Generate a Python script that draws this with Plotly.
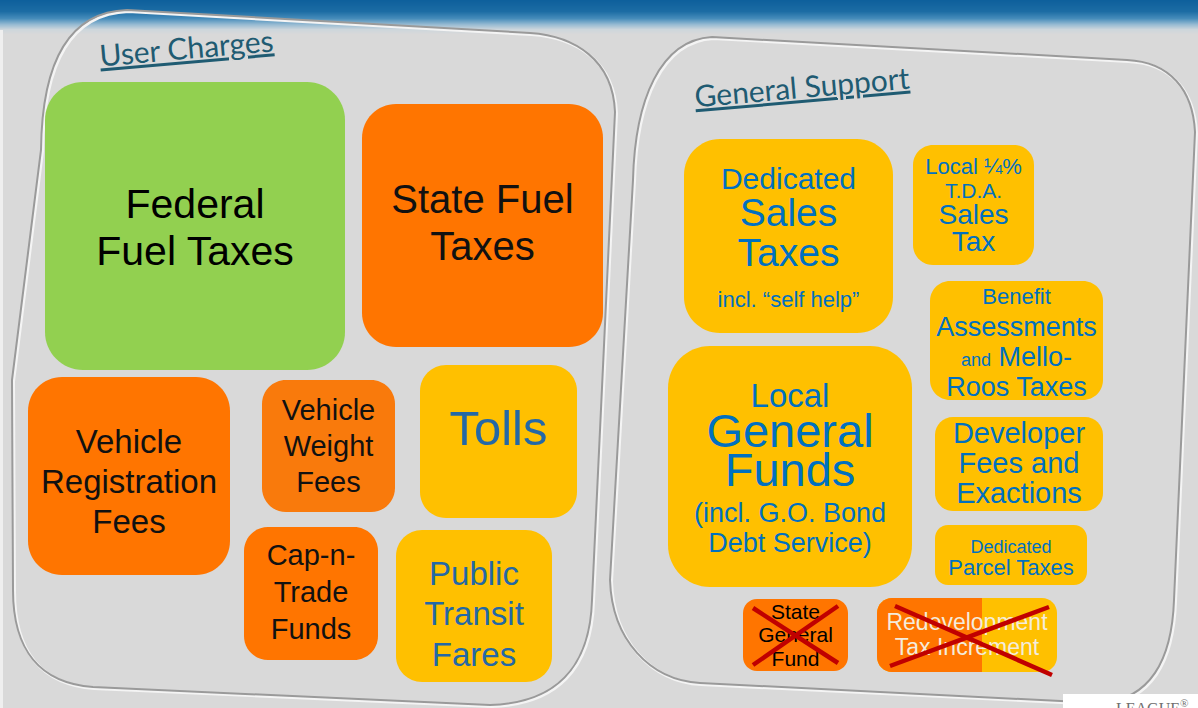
import plotly.graph_objects as go

W, H = 1198, 708

# ---------------- data ----------------
TITLES = ["User Charges", "General Support"]

SOURCES = [
    "Federal Fuel Taxes", "State Fuel Taxes", "Vehicle Registration Fees",
    "Vehicle Weight Fees", "Tolls", "Cap-n-Trade Funds", "Public Transit Fares",
    "Dedicated Sales Taxes", "Local ¼% T.D.A. Sales Tax",
    "Benefit Assessments and Mello-Roos Taxes", "Local General Funds",
    "Developer Fees and Exactions", "Dedicated Parcel Taxes",
    "State General Fund", "Redevelopment Tax Increment",
]
GROUPS = ["User Charges"] * 7 + ["General Support"] * 8
LEVEL = ["Federal", "State", "State", "State", "Local", "State", "Local",
         "Local", "Local", "Local", "Local", "Local", "Local", "State", "Mixed"]
ELIMINATED = [False] * 13 + [True, True]

LABEL_LINES = [
    ["Federal", "Fuel Taxes"],
    ["State Fuel", "Taxes"],
    ["Vehicle", "Registration", "Fees"],
    ["Vehicle", "Weight", "Fees"],
    ["Tolls"],
    ["Cap-n-", "Trade", "Funds"],
    ["Public", "Transit", "Fares"],
    ["Dedicated", "Sales", "Taxes", "incl. “self help”"],
    ["Local ¼%", "T.D.A.", "Sales", "Tax"],
    ["Benefit", "Assessments", "<span style='font-size:18px'>and</span> Mello-", "Roos Taxes"],
    ["Local", "General", "Funds", "(incl. G.O. Bond", "Debt Service)"],
    ["Developer", "Fees and", "Exactions"],
    ["Dedicated", "Parcel Taxes"],
    ["State", "General", "Fund"],
    ["Redevelopment", "Tax Increment"],
]

LOGO_TEXT = "LEAGUE<sup>®</sup>"

# ---------------- layout (positions / sizes / styles) ----------------
BOX_RECT = [  # x0, y0, x1, y1, corner radius (page pixels)
    (45, 82, 345, 370, 38),
    (362, 104, 603, 347, 34),
    (28, 377, 230, 575, 34),
    (262, 380, 395, 512, 24),
    (420, 365, 577, 518, 26),
    (244, 527, 378, 660, 24),
    (396, 530, 552, 682, 26),
    (684, 139, 893, 333, 36),
    (913, 145, 1034, 265, 20),
    (930, 281, 1103, 400, 20),
    (668, 346, 912, 587, 42),
    (935, 417, 1103, 511, 18),
    (935, 525, 1087, 585, 13),
    (743, 599, 848, 671, 14),
    (877, 598, 1057, 672, 15),
]
LINE_Y = [
    [205, 252], [200, 247], [442, 482, 522], [410, 446, 482], [430],
    [555, 592, 629], [574, 614, 655],
    [178, 213, 253, 298], [165, 190, 214, 241], [295, 326, 356, 386],
    [396, 432, 471, 512, 542], [433, 463, 493], [545, 566],
    [611, 634, 658], [621, 646],
]
LINE_SIZE = [
    [41, 41], [40, 40], [33, 33, 33], [29, 29, 29], [49],
    [29, 29, 29], [33, 33, 33],
    [30, 39, 39, 22], [22, 21, 28, 28], [22, 27, 27, 27],
    [33, 47, 47, 27, 27], [29, 29, 29], [18, 22],
    [21, 21, 21], [23, 23, 23],
]
TEXT_DY = 3
FILL = {"Federal": "#92d050", "State": "#ff7500", "Local": "#ffc000", "Mixed": "#ffc000"}
FILL_OVERRIDE = {3: "#f97a0c"}
TEXT_COLOR = {
    ("User Charges", "Federal"): "#000000",
    ("User Charges", "State"): "#111111",
    ("User Charges", "Local"): "#2468a6",
    ("General Support", "Local"): "#0070c0",
    ("General Support", "State"): "#000000",
    ("General Support", "Mixed"): "#f4ecdc",
}
MIXED_SPLIT_X = 982
CROSS = {  # red X strokes for eliminated sources
    13: [((753, 608), (838, 663)), ((753, 665), (838, 606))],
    14: [((895, 606), (1052, 675)), ((890, 666), (1049, 607))],
}
TITLE_POS = [(186, 47, -5), (802, 86, -5)]

BG = "#d9d9d9"


def rr_path(x0, y0, x1, y1, r, corners=(1, 1, 1, 1)):
    k = 0.5523
    tl, tr, br, bl = [r * c for c in corners]
    p = f"M{x0 + tl},{y0} L{x1 - tr},{y0} "
    if tr:
        p += f"C{x1 - tr + tr * k},{y0} {x1},{y0 + tr - tr * k} {x1},{y0 + tr} "
    p += f"L{x1},{y1 - br} "
    if br:
        p += f"C{x1},{y1 - br + br * k} {x1 - br + br * k},{y1} {x1 - br},{y1} "
    p += f"L{x0 + bl},{y1} "
    if bl:
        p += f"C{x0 + bl - bl * k},{y1} {x0},{y1 - bl + bl * k} {x0},{y1 - bl} "
    p += f"L{x0},{y0 + tl} "
    if tl:
        p += f"C{x0},{y0 + tl - tl * k} {x0 + tl - tl * k},{y0} {x0 + tl},{y0} "
    return p + "Z"


def seg_path(segs, dx=0, dy=0):
    out = []
    for s in segs:
        cmd, pts = s[0], s[1:]
        out.append(cmd + " ".join(f"{x + dx},{y + dy}" for x, y in pts))
    return " ".join(out)


CONTAINERS = [
    [("M", (127, 10)), ("L", (530, 33)), ("C", (575, 36), (613, 60), (615, 112)),
     ("L", (592, 600)), ("C", (590, 668), (555, 703), (490, 705)),
     ("L", (93, 687)), ("C", (40, 683), (13, 650), (13, 590)),
     ("L", (12, 380)), ("L", (41, 150)), ("C", (42, 60), (70, 12), (127, 10))],
    [("M", (712, 37)), ("L", (1127, 60)), ("C", (1170, 62), (1193, 90), (1195, 132)),
     ("L", (1174, 600)), ("C", (1172, 660), (1150, 700), (1100, 703)),
     ("L", (700, 683)), ("C", (650, 680), (612, 640), (610, 580)),
     ("L", (633, 180)), ("C", (635, 100), (660, 40), (712, 37))],
]


def lerp(c1, c2, t):
    return tuple(round(a + (b - a) * t) for a, b in zip(c1, c2))


GRAD_STOPS = [(0, (14, 96, 156)), (11, (28, 108, 164)), (18, (70, 140, 186)),
              (24, (150, 186, 210)), (29, (205, 214, 220)), (34, (217, 217, 217))]

shapes = []
# top gradient band
for y in range(0, 34):
    for (ya, ca), (yb, cb) in zip(GRAD_STOPS[:-1], GRAD_STOPS[1:]):
        if ya <= y < yb:
            c = lerp(ca, cb, (y - ya) / (yb - ya))
            break
    shapes.append(dict(type="rect", xref="x", yref="y", x0=0, x1=W, y0=y, y1=y + 1.05,
                       fillcolor=f"rgb{c}", line_width=0, layer="below"))
shapes.append(dict(type="rect", xref="x", yref="y", x0=0, x1=3, y0=30, y1=H,
                   fillcolor="#efefef", line_width=0, layer="below"))

# container outlines
for segs in CONTAINERS:
    shapes.append(dict(type="path", xref="x", yref="y", path=seg_path(segs, 1.5, 1.5),
                       line=dict(color="#f4f4f4", width=3), layer="below"))
    shapes.append(dict(type="path", xref="x", yref="y", path=seg_path(segs),
                       line=dict(color="#9a9a9a", width=2), layer="below"))

# boxes
for i, (x0, y0, x1, y1, r) in enumerate(BOX_RECT):
    col = FILL_OVERRIDE.get(i, FILL[LEVEL[i]])
    shapes.append(dict(type="path", xref="x", yref="y", path=rr_path(x0, y0, x1, y1, r),
                       fillcolor=col, line_width=0, layer="below"))
    if LEVEL[i] == "Mixed":
        shapes.append(dict(type="path", xref="x", yref="y",
                           path=rr_path(x0, y0, MIXED_SPLIT_X, y1, r, (1, 0, 0, 1)),
                           fillcolor=FILL["State"], line_width=0, layer="below"))

# red crosses above text
for i, elim in enumerate(ELIMINATED):
    if elim:
        for (xa, ya), (xb, yb) in CROSS[i]:
            shapes.append(dict(type="line", xref="x", yref="y", x0=xa, y0=ya, x1=xb, y1=yb,
                               line=dict(color="#c00000", width=4.5), layer="above"))

# logo strip
shapes.append(dict(type="rect", xref="x", yref="y", x0=1063, x1=1198, y0=694, y1=H,
                   fillcolor="#ffffff", line_width=0, layer="below"))

# text via a scatter text trace
tx, ty, tt, ts, tc = [], [], [], [], []
for i, lines in enumerate(LABEL_LINES):
    x0, y0, x1, y1, r = BOX_RECT[i]
    col = TEXT_COLOR[(GROUPS[i], LEVEL[i])]
    for j, line in enumerate(lines):
        tx.append((x0 + x1) / 2)
        ty.append(LINE_Y[i][j] + TEXT_DY)
        tt.append(line)
        ts.append(LINE_SIZE[i][j])
        tc.append(col)

fig = go.Figure()
fig.add_trace(go.Scatter(
    x=tx, y=ty, text=tt, mode="text", textposition="middle center",
    textfont=dict(family="Liberation Sans, Arial, sans-serif", size=ts, color=tc),
    hoverinfo="skip", showlegend=False, cliponaxis=False,
))

annotations = []
for title, (x, y, ang) in zip(TITLES, TITLE_POS):
    annotations.append(dict(x=x, y=y, xref="x", yref="y", text=f"<u>{title}</u>",
                            showarrow=False, textangle=ang,
                            font=dict(family="Lato, Open Sans, sans-serif", size=30,
                                      color="#1f5b72")))
annotations.append(dict(x=1152, y=695, xref="x", yref="y", text=LOGO_TEXT,
                        showarrow=False, yanchor="top",
                        font=dict(family="Liberation Serif, serif", size=16, color="#6f6f6f")))

fig.update_layout(
    width=W, height=H, margin=dict(l=0, r=0, t=0, b=0),
    paper_bgcolor=BG, plot_bgcolor=BG,
    xaxis=dict(range=[0, W], visible=False, fixedrange=True),
    yaxis=dict(range=[H, 0], visible=False, fixedrange=True),
    shapes=shapes, annotations=annotations, showlegend=False,
)

fig.write_html("out.html", config={"displayModeBar": False},
               post_script="document.body.style.margin='0';document.body.style.overflow='hidden';")
